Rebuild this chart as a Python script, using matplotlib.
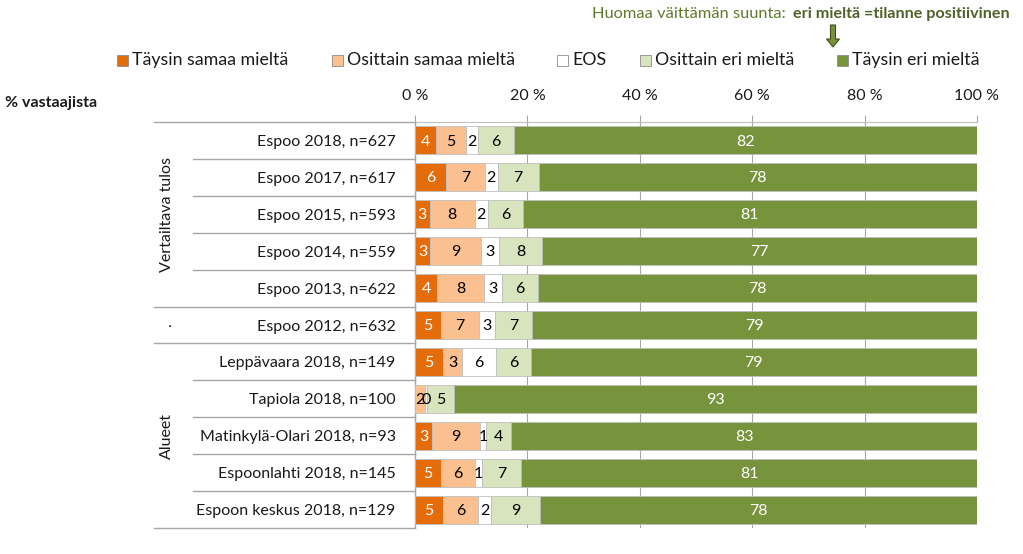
import matplotlib
matplotlib.use("Agg")
import matplotlib.pyplot as plt
import matplotlib.transforms as mtransforms
from matplotlib.patches import Rectangle, FancyArrow
from matplotlib.lines import Line2D
import numpy as np

plt.rcParams['font.family'] = ['Lato', 'DejaVu Sans']

categories = ["Espoo 2018, n=627", "Espoo 2017, n=617", "Espoo 2015, n=593",
              "Espoo 2014, n=559", "Espoo 2013, n=622", "Espoo 2012, n=632",
              "Leppävaara 2018, n=149", "Tapiola 2018, n=100",
              "Matinkylä-Olari 2018, n=93", "Espoonlahti 2018, n=145",
              "Espoon keskus 2018, n=129"]
groups = ["Vertailtava tulos", ".", "Alueet"]
group_sizes = [5, 1, 5]

series_names = ["Täysin samaa mieltä", "Osittain samaa mieltä", "EOS",
                "Osittain eri mieltä", "Täysin eri mieltä"]
taysin_samaa = [3.8, 5.6, 2.6, 2.7, 4.0, 4.6, 5.0, 0.0, 3.0, 4.6, 5.0]
osittain_samaa = [5.3, 6.8, 8.0, 9.1, 8.3, 6.8, 3.4, 1.8, 8.6, 6.0, 6.2]
eos = [2.1, 2.3, 2.4, 3.2, 3.2, 2.8, 6.0, 0.3, 1.1, 1.4, 2.4]
osittain_eri = [6.4, 7.3, 6.2, 7.6, 6.4, 6.6, 6.2, 4.8, 4.4, 6.9, 8.6]
taysin_eri = [82.4, 78.0, 80.8, 77.4, 78.1, 79.2, 79.4, 93.1, 82.9, 81.1, 77.8]
x_ticks = [0, 20, 40, 60, 80, 100]
x_ticklabels = ["0 %", "20 %", "40 %", "60 %", "80 %", "100 %"]

series = [taysin_samaa, osittain_samaa, eos, osittain_eri, taysin_eri]
colors = ["#E46C0A", "#FAC090", "#FFFFFF", "#D7E4BD", "#77933C"]
label_colors = ["white", "black", "black", "black", "white"]

W, H = 1023, 554
fig = plt.figure(figsize=(W / 100, H / 100), dpi=100)
ax = fig.add_axes([415 / W, 1 - 528 / H, 562 / W, 406 / H])

y = np.arange(len(categories))
left = np.zeros(len(categories))
for vals, col, lc in zip(series, colors, label_colors):
    vals = np.array(vals)
    ax.barh(y, vals, left=left, height=0.76, color=col, edgecolor="#BFBFBF",
            linewidth=0.6, zorder=3)
    for yi, (v, l) in enumerate(zip(vals, left)):
        if v > 0 or col == "#FFFFFF":
            ax.text(l + v / 2, yi + 0.03, f"{v:.0f}", ha="center", va="center",
                    fontsize=11.5, color=lc, zorder=4)
    left = left + vals

ax.set_xlim(0, 100)
ax.set_ylim(len(categories) - 0.5, -0.5)
ax.xaxis.tick_top()
ax.set_xticks(x_ticks)
ax.set_xticklabels(x_ticklabels, fontsize=11.5, color="#1a1a1a")
ax.tick_params(axis="x", length=5, width=0.8, color="#A6A6A6", pad=9)
ax.set_yticks(y)
ax.set_yticklabels(categories, fontsize=11.5, color="#1a1a1a")
ax.tick_params(axis="y", length=0, pad=14)
ax.grid(axis="x", color="#A6A6A6", linewidth=0.8, zorder=0)
ax.set_axisbelow(True)
for s in ["right", "bottom"]:
    ax.spines[s].set_visible(False)
ax.spines["top"].set_color("#BFBFBF")
ax.spines["top"].set_linewidth(0.8)
ax.spines["left"].set_color("#A6A6A6")
ax.spines["left"].set_linewidth(1.0)

# category table lines
trans = mtransforms.blended_transform_factory(fig.transFigure, ax.transData)
x_outer, x_inner, x_axis = 154 / W, 193 / W, 415 / W
bounds = np.cumsum([0] + group_sizes)
for i in range(len(categories) + 1):
    yy = i - 0.5
    xs = x_outer if i in bounds else x_inner
    fig.add_artist(Line2D([xs, x_axis], [yy, yy], transform=trans,
                          color="#A6A6A6", linewidth=1.0))
for g, start, n in zip(groups, bounds[:-1], group_sizes):
    yc = start + (n - 1) / 2
    fig.text(167 / W, yc, g, transform=trans, rotation=90, ha="center",
             va="center", fontsize=11.5, color="#1a1a1a")

fig.text(5 / W, 1 - 103 / H, "% vastaajista", fontsize=11.5, fontweight="bold",
         ha="left", va="center", color="#1a1a1a")

# legend
leg_x = [117, 332, 557, 640, 837]
leg_y = 60
sq = 11
for name, col, lx in zip(series_names, colors, leg_x):
    fig.add_artist(Rectangle((lx / W, 1 - (leg_y + sq / 2) / H), sq / W, sq / H,
                             transform=fig.transFigure, facecolor=col,
                             edgecolor="#8C8C8C", linewidth=0.6))
    fig.text((lx + sq + 4) / W, 1 - leg_y / H, name, fontsize=12.8, ha="left",
             va="center", color="#1a1a1a")

# note
fig.text(790 / W, 1 - 14 / H, "Huomaa väittämän suunta: ", fontsize=11.8,
         ha="right", va="center", color="#5E7B2C")
fig.text(793 / W, 1 - 14 / H, "eri mieltä =tilanne positiivinen", fontsize=11.6,
         fontweight="bold", ha="left", va="center", color="#4F6228")
fig.add_artist(FancyArrow(833 / 100, (H - 25) / 100, 0, -22 / 100,
                          width=5 / 100, head_width=13 / 100, head_length=8 / 100,
                          length_includes_head=True,
                          transform=fig.dpi_scale_trans, facecolor="#77933C",
                          edgecolor="#3F4F1F", linewidth=0.8))

fig.savefig("out.png", dpi=100)
